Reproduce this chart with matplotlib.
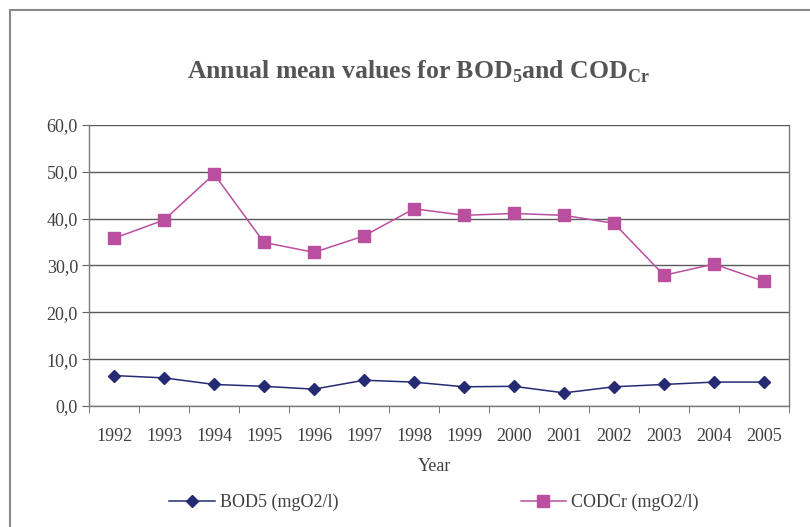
import matplotlib
matplotlib.use("Agg")
import matplotlib.pyplot as plt
from matplotlib.patches import Rectangle

years = ["1992", "1993", "1994", "1995", "1996", "1997", "1998",
         "1999", "2000", "2001", "2002", "2003", "2004", "2005"]
bod5 = [6.5, 6.0, 4.6, 4.2, 3.6, 5.5, 5.1, 4.1, 4.2, 2.8, 4.1, 4.6, 5.1, 5.1]
codcr = [35.8, 39.7, 49.5, 34.9, 32.8, 36.3, 42.1, 40.7, 41.1, 40.7, 39.0, 27.9, 30.3, 26.6]
yticks = [0, 10, 20, 30, 40, 50, 60]

plt.rcParams["font.family"] = ["Liberation Serif", "DejaVu Serif"]
plt.rcParams["mathtext.fontset"] = "custom"
plt.rcParams["mathtext.bf"] = "Liberation Serif:bold"
plt.rcParams["mathtext.rm"] = "Liberation Serif"

txt = "#404040"
fig = plt.figure(figsize=(8.1, 5.27), dpi=100)
ax = fig.add_axes([0.110, 0.2296, 0.864, 0.5334])

x = list(range(len(years)))
ax.plot(x, bod5, color="#252b73", lw=1.1, marker="D", ms=6.3,
        label="BOD5 (mgO2/l)")
ax.plot(x, codcr, color="#bb4f9f", lw=1.1, marker="s", ms=9.0,
        label="CODCr (mgO2/l)")

ax.set_xlim(-0.5, len(years) - 0.5)
ax.set_ylim(0, 60)
ax.set_yticks(yticks)
ax.set_yticklabels([f"{v:.1f}".replace(".", ",") for v in yticks])
ax.set_xticks(x)
ax.set_xticklabels(years)
# tick marks sit between the categories
ax.set_xticks([i - 0.5 for i in range(len(years) + 1)], minor=True)
ax.tick_params(axis="x", which="major", length=0, pad=16, labelsize=13, labelcolor=txt)
ax.tick_params(axis="x", which="minor", length=5, color="#606060", direction="out")
ax.tick_params(axis="y", length=5, color="#606060", labelsize=13, labelcolor=txt, pad=3)

ax.grid(axis="y", color="#5a5a5a", lw=1.0)
ax.set_axisbelow(True)
for s in ax.spines.values():
    s.set_color("#7a7a7a")
    s.set_linewidth(1.0)
ax.spines["top"].set_visible(False)

fig.text(0.516, 0.863, r"Annual mean values for BOD$_\mathbf{5}$and COD$_\mathbf{Cr}$",
         ha="center", va="center", fontsize=18.5, fontweight="bold", color="#555555")
fig.text(0.537, 0.114, "Year", ha="center", va="center", fontsize=13, color=txt)

leg = fig.legend(loc="center", bbox_to_anchor=(0.536, 0.047), ncol=2, frameon=False,
                 fontsize=13, handlelength=2.5, handletextpad=0.3, columnspacing=10.1)
for t in leg.get_texts():
    t.set_color(txt)

# outer chart frame
fig.patches.append(Rectangle((10 / 810, -0.05), 1.0, 1 - 10 / 527 + 0.05,
                             transform=fig.transFigure, fill=False,
                             edgecolor="#8a8a8a", lw=1.5))

fig.savefig("out.png", dpi=100)
